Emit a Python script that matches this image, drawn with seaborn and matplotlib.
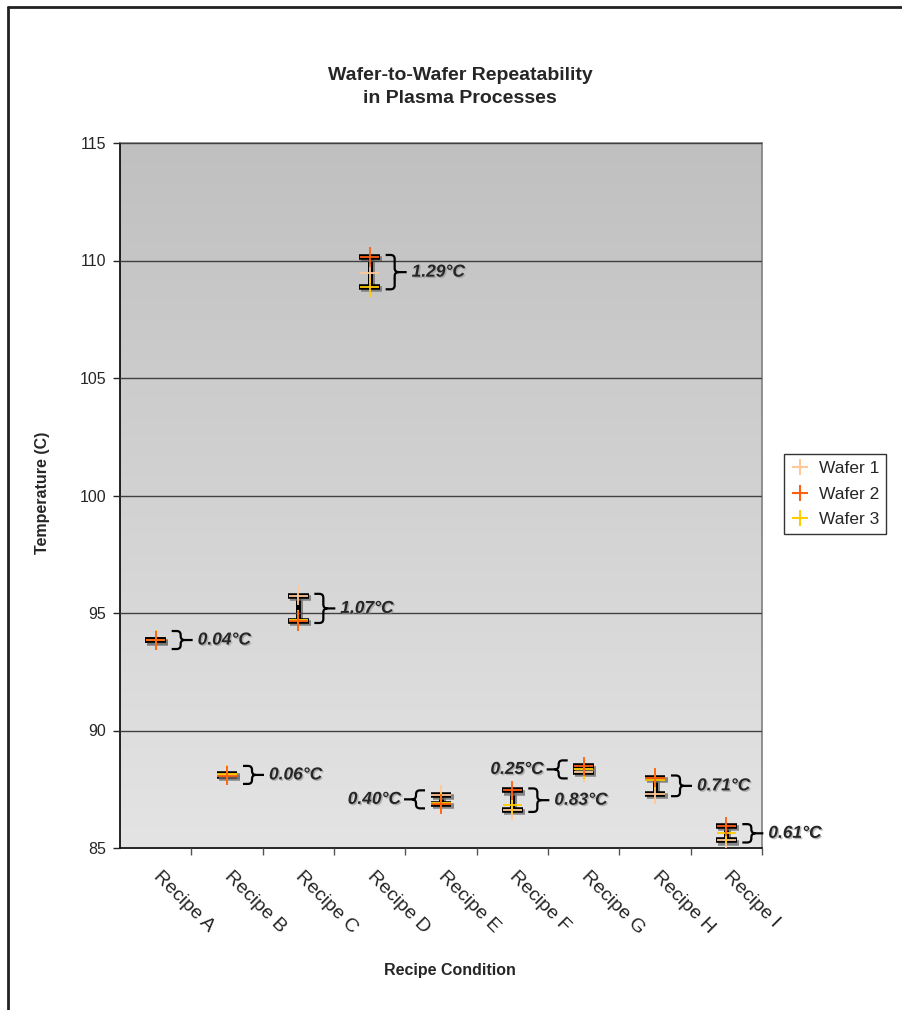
import numpy as np
import pandas as pd
import seaborn as sns
import matplotlib.pyplot as plt
import matplotlib.patheffects as pe
from matplotlib.path import Path
from matplotlib.patches import PathPatch
from matplotlib.lines import Line2D
from matplotlib.colors import LinearSegmentedColormap
from matplotlib.transforms import Affine2D, ScaledTranslation

# Chart values
recipes = ['Recipe A', 'Recipe B', 'Recipe C', 'Recipe D', 'Recipe E',
           'Recipe F', 'Recipe G', 'Recipe H', 'Recipe I']
wafer1 = [93.85, 88.10, 95.73, 109.45, 87.27, 86.62, 88.22, 87.29, 85.32]
wafer2 = [93.83, 88.08, 94.66, 110.15, 86.87, 87.45, 88.47, 88.00, 85.93]
wafer3 = [93.87, 88.14, 94.70, 108.86, 86.92, 86.85, 88.35, 87.90, 85.62]
wafer_names = ['Wafer 1', 'Wafer 2', 'Wafer 3']
label_side = ['right', 'right', 'right', 'right', 'left',
              'right', 'left', 'right', 'right']

palette = {'Wafer 1': '#FFC896', 'Wafer 2': '#FF6010', 'Wafer 3': '#FFCC00'}

# long form table, wafer 2 drawn last so it sits on top
df = pd.DataFrame({
    'Recipe': recipes * 3,
    'Wafer': ['Wafer 1'] * 9 + ['Wafer 3'] * 9 + ['Wafer 2'] * 9,
    'Temperature': wafer1 + wafer3 + wafer2,
})
stats = df.groupby('Recipe', sort=False)['Temperature'].agg(['min', 'max']).reindex(recipes)

sns.set_style('white')
plt.rcParams['font.family'] = ['Liberation Sans', 'DejaVu Sans']

fig = plt.figure(figsize=(9.02, 10.1), dpi=100)
ax = fig.add_axes([120 / 902, 1 - 848 / 1010, 642 / 902, 705 / 1010])

# gradient plot area
grad = LinearSegmentedColormap.from_list('bg', ['#E4E4E4', '#C0C0C0'])
ax.imshow(np.linspace(0, 1, 256)[:, None], extent=[-0.5, 8.5, 85, 115],
          origin='lower', aspect='auto', cmap=grad, zorder=0)

# min-max I-beams
xpos = np.arange(len(recipes))
mid = (stats['min'] + stats['max']) / 2
half = (stats['max'] - stats['min']) / 2
eb = ax.errorbar(xpos, mid, yerr=half, fmt='none', ecolor='black',
                 elinewidth=3.6, capsize=7.5, capthick=4, zorder=2)
shadow = [pe.SimpleLineShadow(offset=(1.5, -1.5), shadow_color='#707070', alpha=0.8), pe.Normal()]
for art in list(eb.lines[1]) + list(eb.lines[2]):
    art.set_path_effects(shadow)

sns.scatterplot(data=df, x='Recipe', y='Temperature', hue='Wafer',
                hue_order=wafer_names, palette=palette, marker='+',
                s=190, linewidth=1.3, ax=ax, zorder=3, legend=False)


def brace(ax, x, y, height_px, side):
    w, r, tail = 9, 4, 8
    h = height_px / 2
    verts = [(0, h), (w - r, h), (w, h), (w, h - r), (w, r), (w, 0), (w + r, 0),
             (w, 0), (w, -r), (w, -h + r), (w, -h), (w - r, -h), (0, -h),
             (w + r, 0), (w + r + tail, 0)]
    codes = [Path.MOVETO, Path.LINETO, Path.CURVE3, Path.CURVE3, Path.LINETO,
             Path.CURVE3, Path.CURVE3, Path.CURVE3, Path.CURVE3, Path.LINETO,
             Path.CURVE3, Path.CURVE3, Path.LINETO, Path.MOVETO, Path.LINETO]
    sgn = 1 if side == 'right' else -1
    verts = [(sgn * (16 + vx), vy) for vx, vy in verts]
    trans = (Affine2D().scale(1 / fig.dpi) + fig.dpi_scale_trans
             + ScaledTranslation(x, y, ax.transData))
    ax.add_patch(PathPatch(Path(verts, codes), transform=trans, fill=False,
                           edgecolor='black', lw=1.6, zorder=3, clip_on=False))
    return trans


px_per_unit = 705 / 30
for i, rec in enumerate(recipes):
    lo, hi = stats.loc[rec, 'min'], stats.loc[rec, 'max']
    yc = (lo + hi) / 2
    hpx = max((hi - lo) * px_per_unit + 4, 18)
    side = label_side[i]
    tx = brace(ax, i, yc, hpx, side)
    ax.text(42 if side == 'right' else -40, 0, f'{hi - lo:.2f}°C', transform=tx,
            ha='left' if side == 'right' else 'right', va='center',
            fontsize=12.5, fontweight='bold', fontstyle='italic', zorder=4, clip_on=False,
            path_effects=[pe.withSimplePatchShadow(offset=(1, -1), shadow_rgbFace='#909090', alpha=0.6)])

# axes styling
ax.set_xlim(-0.5, 8.5)
ax.set_ylim(85, 115)
ax.set_yticks(np.arange(85, 116, 5))
ax.yaxis.grid(True, color='#404040', lw=1)
ax.set_axisbelow(False)
for gl in ax.get_ygridlines():
    gl.set_zorder(1)
ax.set_xticks(xpos)
ax.set_xticklabels(recipes, rotation=-45, ha='left', va='center', rotation_mode='anchor')
ax.set_xticks(np.arange(0.5, 9, 1), minor=True)
ax.tick_params(axis='x', which='major', length=0, pad=19, labelsize=14)
ax.tick_params(axis='x', which='minor', length=5, width=1, color='#555555', direction='out', bottom=True)
ax.tick_params(axis='y', length=5, width=1, direction='out', left=True, labelsize=11.5, pad=5)
for s in ['left', 'bottom']:
    ax.spines[s].set_color('black')
    ax.spines[s].set_linewidth(1.2)
for s in ['top', 'right']:
    ax.spines[s].set_color('#808080')
    ax.spines[s].set_linewidth(1.2)
ax.set_xlabel('')
ax.set_ylabel('')

fig.text(460 / 902, 1 - 87 / 1010, 'Wafer-to-Wafer Repeatability\nin Plasma Processes',
         ha='center', va='center', fontsize=14, fontweight='bold', linespacing=1.45)
fig.text(450 / 902, 1 - 971 / 1010, 'Recipe Condition', ha='center', va='center',
         fontsize=11.5, fontweight='bold')
fig.text(42 / 902, 1 - 493 / 1010, 'Temperature (C)', ha='center', va='center',
         rotation=90, fontsize=11.5, fontweight='bold')

# legend
handles = [Line2D([], [], ls='none', marker='+', markersize=12, markeredgewidth=1.5,
                  color=palette[n]) for n in wafer_names]
leg = ax.legend(handles, wafer_names, loc='center left',
                bbox_to_anchor=(784 / 902, 1 - 494 / 1010), bbox_transform=fig.transFigure,
                frameon=True, fancybox=False, edgecolor='black', fontsize=12.5,
                handlelength=1.0, handletextpad=0.6, labelspacing=0.6,
                borderpad=0.4, borderaxespad=0)
leg.get_frame().set_linewidth(1)

# outer chart border (top and left edges)
fig.add_artist(Line2D([8 / 902, 1], [1 - 7 / 1010, 1 - 7 / 1010], transform=fig.transFigure,
                      color='#222222', lw=2))
fig.add_artist(Line2D([8 / 902, 8 / 902], [0, 1 - 7 / 1010], transform=fig.transFigure,
                      color='#222222', lw=2))

fig.savefig('out.png', dpi=100)
